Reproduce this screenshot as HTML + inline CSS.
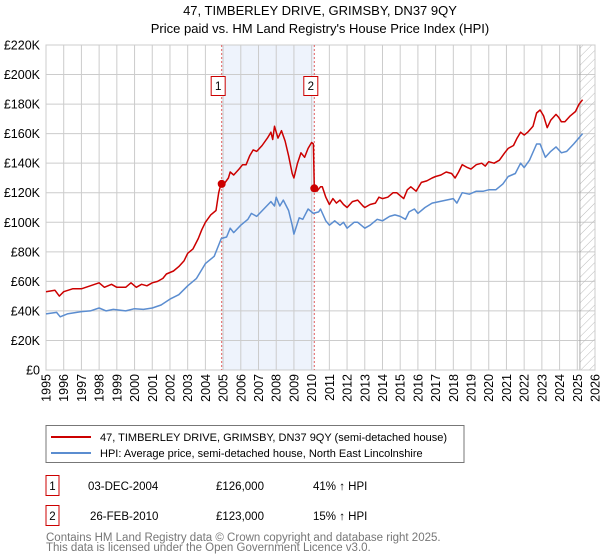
<!DOCTYPE html>
<html><head><meta charset="utf-8"><style>
body{margin:0;background:#fff;font-family:"Liberation Sans","DejaVu Sans",sans-serif;}
svg{display:block}
</style></head><body>
<svg id="c" width="600" height="560" xmlns="http://www.w3.org/2000/svg">
<text x="320" y="15" text-anchor="middle" font-size="13" fill="#000">47, TIMBERLEY DRIVE, GRIMSBY, DN37 9QY</text>
<text x="320" y="33" text-anchor="middle" font-size="13" fill="#000">Price paid vs. HM Land Registry's House Price Index (HPI)</text>
<defs><pattern id="hatch" width="6" height="6" patternUnits="userSpaceOnUse" patternTransform="rotate(45)"><line x1="0" y1="0" x2="0" y2="6" stroke="#bbb" stroke-width="1"/></pattern></defs>
<g id="grid"></g><g id="marks"></g>
<g id="legend">
<rect x="46" y="425.5" width="418" height="37" fill="#fff" stroke="#777"/>
<line x1="51" y1="437" x2="91" y2="437" stroke="#cc0000" stroke-width="2"/>
<text x="100" y="441" font-size="11">47, TIMBERLEY DRIVE, GRIMSBY, DN37 9QY (semi-detached house)</text>
<line x1="51" y1="453" x2="91" y2="453" stroke="#5b8dd0" stroke-width="2"/>
<text x="100" y="457" font-size="11">HPI: Average price, semi-detached house, North East Lincolnshire</text>
</g>
<g font-size="11.5">
<rect x="46" y="475.5" width="13" height="20" fill="#fff" stroke="#cc0000"/>
<text x="52.5" y="490" text-anchor="middle">1</text>
<text x="88" y="490">03-DEC-2004</text>
<text x="216" y="490">£126,000</text>
<text x="313" y="490">41% ↑ HPI</text>
<rect x="46" y="505.5" width="13" height="20" fill="#fff" stroke="#cc0000"/>
<text x="52.5" y="520" text-anchor="middle">2</text>
<text x="90" y="520">26-FEB-2010</text>
<text x="216" y="520">£123,000</text>
<text x="313" y="520">15% ↑ HPI</text>
</g>
<text x="46" y="541" font-size="11.5" fill="#777">Contains HM Land Registry data © Crown copyright and database right 2025.</text>
<text x="46" y="551" font-size="11.5" fill="#777">This data is licensed under the Open Government Licence v3.0.</text>
</svg>
<script>
const yTicks=[0,20,40,60,80,100,120,140,160,180,200,220];
const yTickLabels=["£0","£20K","£40K","£60K","£80K","£100K","£120K","£140K","£160K","£180K","£200K","£220K"];
const xYears=[1995,1996,1997,1998,1999,2000,2001,2002,2003,2004,2005,2006,2007,2008,2009,2010,2011,2012,2013,2014,2015,2016,2017,2018,2019,2020,2021,2022,2023,2024,2025,2026];
const redT=[1995,1995.5,1995.75,1996,1996.5,1997,1997.5,1998,1998.3,1998.7,1999,1999.5,1999.8,2000.1,2000.4,2000.7,2001,2001.3,2001.6,2001.8,2002.2,2002.5,2002.8,2003,2003.3,2003.6,2003.8,2004,2004.3,2004.6,2004.75,2004.9,2005,2005.3,2005.4,2005.6,2005.9,2006.1,2006.3,2006.5,2006.7,2006.9,2007.2,2007.5,2007.7,2007.8,2007.9,2008.1,2008.3,2008.5,2008.7,2008.9,2009,2009.2,2009.4,2009.6,2009.8,2010,2010.1,2010.15,2010.3,2010.5,2010.6,2010.8,2011,2011.2,2011.4,2011.6,2011.8,2012,2012.3,2012.6,2012.9,2013,2013.3,2013.6,2013.8,2014,2014.3,2014.6,2014.8,2015,2015.2,2015.4,2015.6,2015.9,2016.2,2016.5,2016.8,2017,2017.3,2017.6,2017.9,2018.1,2018.3,2018.5,2018.8,2019,2019.3,2019.6,2019.8,2020,2020.3,2020.6,2020.9,2021.1,2021.4,2021.6,2021.8,2022,2022.2,2022.5,2022.7,2022.9,2023.1,2023.3,2023.5,2023.8,2023.95,2024.1,2024.3,2024.6,2024.9,2025.1,2025.3];
const redV=[53,54,50,53,55,55,57,59,56,58,56,56,59,56,58,57,59,60,62,65,67,70,74,79,82,89,95,100,105,108,120,127,125,130,134,132,136,139,139,145,149,148,152,157,161,156,165,157,162,155,145,133,130,140,147,144,150,154,153,123,121,124,124,117,112,116,113,115,112,110,114,115,111,110,112,113,117,116,117,120,120,118,116,122,124,121,127,128,130,131,132,134,133,130,134,139,137,136,139,140,138,141,140,142,147,150,152,157,161,159,161,165,174,176,172,164,169,173,171,168,168,172,175,180,183];
const blueT=[1995,1995.6,1995.8,1996.2,1997,1997.5,1998,1998.4,1998.8,1999.5,2000,2000.5,2001,2001.5,2002,2002.5,2003,2003.5,2004,2004.5,2004.9,2005.2,2005.4,2005.6,2006,2006.4,2006.6,2006.9,2007.3,2007.7,2007.9,2008,2008.2,2008.4,2008.7,2008.9,2009,2009.3,2009.5,2009.8,2010.1,2010.4,2010.5,2010.8,2011,2011.3,2011.6,2011.8,2012,2012.4,2012.6,2013,2013.3,2013.7,2014,2014.4,2014.7,2015,2015.3,2015.5,2015.8,2016,2016.4,2016.8,2017.2,2017.6,2018,2018.2,2018.5,2018.9,2019.3,2019.7,2020,2020.4,2020.8,2021.1,2021.5,2021.8,2022,2022.3,2022.7,2022.9,2023.2,2023.5,2023.8,2024.1,2024.4,2024.8,2025.3];
const blueV=[38,39,36,38,39.5,40,42,40,41,40,41.5,41,42,44,48,51,57,62,72,77,89,90,96,93,98,102,106,104,109,114,111,117,111,115,108,98,92,103,102,109,106,107,109,101,98,101,98,100,96,100,100,96,98,102,101,104,105,104,102,107,109,106,110,113,114,115,116,113,120,119,121,121,122,122,126,131,133,140,137,142,153,153,144,148,151,147,148,153,160];
const saleT=[2004.92,2010.15];
const saleV=[126,123];
const saleLabels=["1","2"];

const L=46,R=595,T=45,B=370;
const X=t=>L+(t-1995)/31*(R-L);
const Y=v=>B-v/220*(B-T);
const NS="http://www.w3.org/2000/svg";
function mk(tag,attrs,parent){const e=document.createElementNS(NS,tag);for(const k in attrs)e.setAttribute(k,attrs[k]);parent.appendChild(e);return e;}
const g=document.getElementById('grid'),m=document.getElementById('marks');
let sh=mk('rect',{x:X(saleT[0]),y:T,width:X(saleT[1])-X(saleT[0]),height:B-T,fill:'#eef3fc'},g);


yTicks.forEach((v,i)=>{
 let l=mk('line',{x1:L,x2:R,y1:Y(v),y2:Y(v),stroke:'#ccc','stroke-width':1},g);
 
 
 let t=mk('text',{x:40,y:Y(v)+4.5,'text-anchor':'end','font-size':12.5},g);t.textContent=yTickLabels[i];
 
 
});
xYears.forEach(yr=>{
 let l=mk('line',{x1:X(yr),x2:X(yr),y1:T,y2:B,stroke:'#ccc','stroke-width':1},g);
 
 
 let t=mk('text',{x:0,y:0,'text-anchor':'end','font-size':12.5,transform:`translate(${X(yr)+4.5},${B+4}) rotate(-90)`},g);t.textContent=yr;
 
 
});
let ht=mk('rect',{x:X(2025.15),y:T,width:R-X(2025.15),height:B-T,fill:'url(#hatch)',stroke:'#999','stroke-width':0.8},g);


let ax=mk('rect',{x:L,y:T,width:R-L,height:B-T,fill:'none',stroke:'#ccc'},g);


saleT.forEach((t,i)=>{
 let l=mk('line',{x1:X(t),x2:X(t),y1:T,y2:B,stroke:'#e06060','stroke-width':1,'stroke-dasharray':'2,2'},m);
 
 
});
function path(ts,vs,col,name){
 let d=ts.map((t,i)=>(i?'L':'M')+X(t).toFixed(1)+','+Y(vs[i]).toFixed(1)).join('');
 let p=mk('path',{d:d,fill:'none',stroke:col,'stroke-width':1.5,'stroke-linejoin':'round'},m);
 
 
}
path(blueT,blueV,'#5b8dd0','hpi-line');
path(redT,redV,'#cc0000','property-price-line');
saleT.forEach((t,i)=>{
 let c=mk('circle',{cx:X(t),cy:Y(saleV[i]),r:4,fill:'#cc0000'},m);
 
 
 let r=mk('rect',{x:X(t)-10.5,y:76.5,width:14,height:19,fill:'#fff',stroke:'#cc0000'},m);
 
 
 let tx=mk('text',{x:X(t)-3.5,y:90,'text-anchor':'middle','font-size':11.5},m);tx.textContent=saleLabels[i];
 
 
});
</script>
</body></html>
